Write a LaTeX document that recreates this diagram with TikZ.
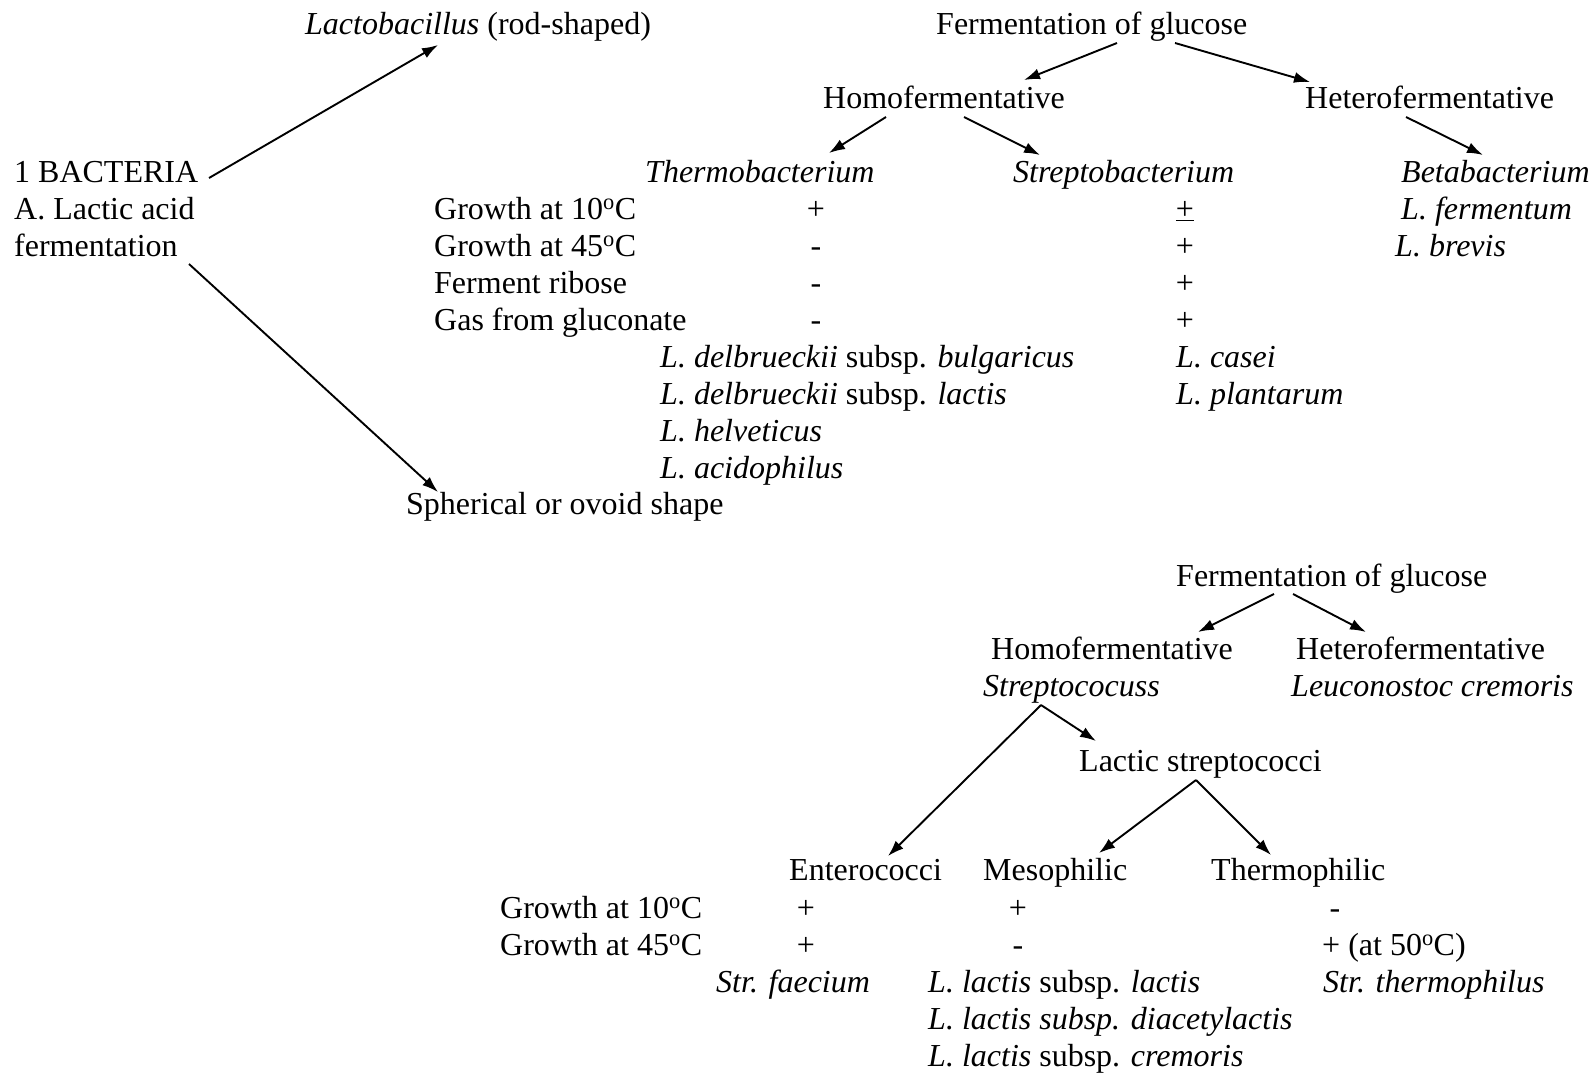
\documentclass[tikz,border=0pt]{standalone}
\usepackage{fontspec}
\setmainfont{Liberation Serif}
\usetikzlibrary{arrows.meta}

\tikzset{
    lbl/.style={anchor=base west, inner sep=0pt, font=\fontsize{32}{37}\selectfont},
    spc/.style={lbl, font=\fontsize{32}{37}\selectfont\itshape},
    val/.style={anchor=base, inner sep=0pt, font=\fontsize{32}{37}\selectfont},
    link/.style={-{Latex[length=16pt, width=11pt]}, line width=1.9pt}
}
\newcommand{\degC}[1]{#1\textsuperscript{o}C}

\begin{document}
\begin{tikzpicture}[x=1pt, y=-1pt]
        \useasboundingbox (0, 0) rectangle (1594, 1073);
        % rod-shaped
        \begin{scope}
            \node[lbl] (lacto) at (305, 35) {\textit{Lactobacillus} (rod-shaped)};
            \node[lbl] (ferm) at (936, 35) {Fermentation of glucose};
            \node[lbl] (homo) at (823, 108) {Homofermentative};
            \node[lbl] (hetero) at (1305, 108) {Heterofermentative};
            \node[lbl] (bact) at (14, 182) {1 BACTERIA};
            \node[lbl] (lact) at (14, 219) {A. Lactic acid};
            \node[lbl] (fermt) at (14, 256) {fermentation};
            \node[spc] (thermo) at (645, 182) {Thermobacterium};
            \node[spc] (strepto) at (1013, 182) {Streptobacterium};
            \node[spc] (beta) at (1401, 182) {Betabacterium};
            \foreach \t [count=\i] in {Growth at \degC{10}, Growth at \degC{45}, Ferment ribose, Gas from gluconate}
                \node[lbl] (test\i) at (434, 182+37*\i) {\t};
            \foreach \v [count=\i] in {+, -, -, -}
                \node[val] (tv\i) at (816, 182+37*\i) {\v};
            \foreach \v [count=\i] in {\underline{+}, +, +, +}
                \node[val] (sv\i) at (1185, 182+37*\i) {\v};
            \node[spc] (ferme) at (1401, 219) {L. fermentum};
            \node[spc] (brev) at (1395, 256) {L. brevis};
            \node[lbl] (bulg) at (660, 367) {\textit{L. delbrueckii} subsp. \textit{bulgaricus}};
            \node[lbl] (dlac) at (660, 404) {\textit{L. delbrueckii} subsp. \textit{lactis}};
            \node[spc] (helv) at (660, 441) {L. helveticus};
            \node[spc] (acid) at (660, 478) {L. acidophilus};
            \node[spc] (case) at (1176, 367) {L. casei};
            \node[spc] (plan) at (1176, 404) {L. plantarum};
            \node[lbl] (sph) at (406, 514) {Spherical or ovoid shape};

            \draw[link] ([xshift=195pt, yshift=4pt]bact.base west) -- ([xshift=133pt, yshift=-10pt]lacto.base west);
            \draw[link] ([xshift=175pt, yshift=-8pt]fermt.base west) -- ([xshift=32pt, yshift=22pt]sph.base west);
            \draw[link] ([xshift=181pt, yshift=-8pt]ferm.base west) -- ([xshift=201pt, yshift=28pt]homo.base west);
            \draw[link] ([xshift=239pt, yshift=-8pt]ferm.base west) -- ([xshift=5pt, yshift=26pt]hetero.base west);
            \draw[link] ([xshift=63pt, yshift=-9pt]homo.base west) -- ([xshift=184pt, yshift=29pt]thermo.base west);
            \draw[link] ([xshift=141pt, yshift=-9pt]homo.base west) -- ([xshift=27pt, yshift=27pt]strepto.base west);
            \draw[link] ([xshift=101pt, yshift=-9pt]hetero.base west) -- ([xshift=82pt, yshift=27pt]beta.base west);
        \end{scope}
        % spherical or ovoid
        \begin{scope}
            \node[lbl] (ferm2) at (1176, 586) {Fermentation of glucose};
            \node[lbl] (homo2) at (991, 659) {Homofermentative};
            \node[lbl] (hetero2) at (1296, 659) {Heterofermentative};
            \node[spc] (strc) at (983, 696) {Streptococuss};
            \node[spc] (leuc) at (1291, 696) {Leuconostoc cremoris};
            \node[lbl] (lacs) at (1079, 771) {Lactic streptococci};
            \node[lbl] (entero) at (789, 880) {Enterococci};
            \node[lbl] (meso) at (983, 880) {Mesophilic};
            \node[lbl] (thph) at (1211, 880) {Thermophilic};
            \node[lbl] (g10) at (500, 918) {Growth at \degC{10}};
            \node[lbl] (g45) at (500, 955) {Growth at \degC{45}};
            \node[val] (ev1) at (806, 918) {+};
            \node[val] (ev2) at (806, 955) {+};
            \node[val] (mv1) at (1018, 918) {+};
            \node[val] (mv2) at (1018, 955) {-};
            \node[val] (hv1) at (1335, 918) {-};
            \node[lbl] (hv2) at (1322, 955) {+ (at \degC{50})};
            \node[spc] (faec) at (716, 992) {Str. faecium};
            \node[lbl] (llac) at (928, 992) {\textit{L. lactis} subsp. \textit{lactis}};
            \node[spc] (diac) at (928, 1029) {L. lactis subsp. diacetylactis};
            \node[lbl] (crem) at (928, 1066) {\textit{L. lactis} subsp. \textit{cremoris}};
            \node[spc] (sthe) at (1323, 992) {Str. thermophilus};

            \draw[link] ([xshift=98pt, yshift=-8pt]ferm2.base west) -- ([xshift=207pt, yshift=27pt]homo2.base west);
            \draw[link] ([xshift=117pt, yshift=-8pt]ferm2.base west) -- ([xshift=70pt, yshift=27pt]hetero2.base west);
            \draw[link] ([xshift=58pt, yshift=-9pt]strc.base west) -- ([xshift=99pt, yshift=24pt]entero.base west);
            \draw[link] ([xshift=58pt, yshift=-9pt]strc.base west) -- ([xshift=17pt, yshift=30pt]lacs.base west);
            \draw[link] ([xshift=117pt, yshift=-9pt]lacs.base west) -- ([xshift=116pt, yshift=27pt]meso.base west);
            \draw[link] ([xshift=117pt, yshift=-9pt]lacs.base west) -- ([xshift=60pt, yshift=25pt]thph.base west);
        \end{scope}
    \end{tikzpicture}
\end{document}
